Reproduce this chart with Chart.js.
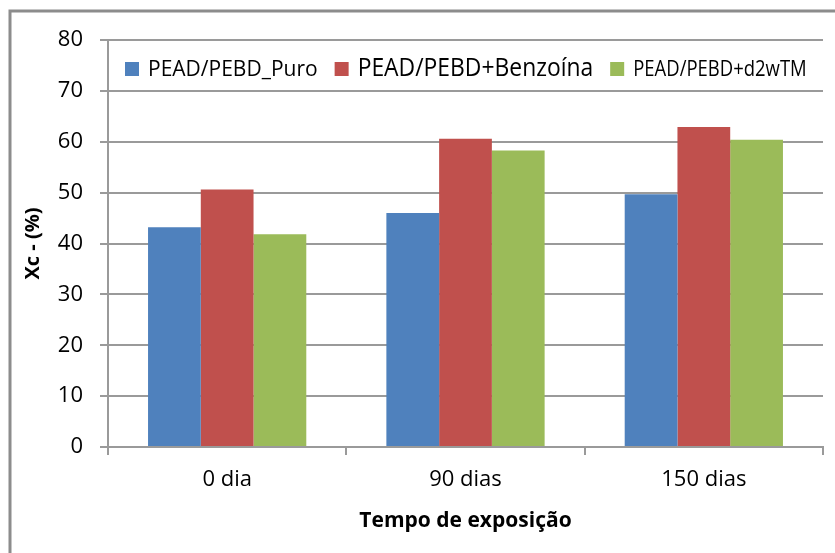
<!DOCTYPE html>
<html>
<head>
<meta charset="utf-8">
<title>Xc - (%)</title>
<script src="https://cdn.jsdelivr.net/npm/chart.js@4"></script>
<style>
  html, body { margin: 0; padding: 0; background: #fff; overflow: hidden; }
  #wrap { width: 835px; height: 553px; position: relative; }
</style>
</head>
<body>
<div id="wrap"><canvas id="xcChart" width="835" height="553"></canvas></div>
<script>
// Cristalinidade por tempo de exposição
const categories = ['0 dia', '90 dias', '150 dias'];
const seriesNames = ['PEAD/PEBD_Puro', 'PEAD/PEBD+Benzoína', 'PEAD/PEBD+d2wTM'];
const puro = [43.2, 46.0, 49.7];
const benzoina = [50.6, 60.6, 62.9];
const d2wTM = [41.8, 58.3, 60.4];
const yTicks = [0, 10, 20, 30, 40, 50, 60, 70, 80];

const colors = ['#4F81BD', '#C0504D', '#9BBB59'];
const FONT = '"Open Sans", sans-serif';

// each legend entry has its own size and horizontal squeeze
const legendFont = [22, 26, 22];
const legendSqueeze = [0.955, 0.88, 0.84];

const inlineLegend = {
    id: 'inlineLegend',
    afterDraw(chart) {
        const ctx = chart.ctx;
        const baseline = 76;
        const boxTop = 62;
        const box = 14;
        let x = 125;
        ctx.save();
        ctx.textBaseline = 'alphabetic';
        chart.data.datasets.forEach((ds, i) => {
            ctx.fillStyle = ds.backgroundColor;
            ctx.fillRect(x, boxTop, box, box);
            x += box + 9;
            ctx.font = legendFont[i] + 'px ' + FONT;
            const w = ctx.measureText(ds.label).width * legendSqueeze[i];
            ctx.save();
            ctx.translate(x, baseline);
            ctx.scale(legendSqueeze[i], 1);
            ctx.fillStyle = '#000';
            ctx.fillText(ds.label, 0, 0);
            ctx.restore();
            x += w + 17;
        });
        ctx.restore();
    }
};

// grey frame around the whole chart
const frame = {
    id: 'frame',
    beforeDraw(chart) {
        const ctx = chart.ctx;
        ctx.save();
        ctx.strokeStyle = '#8c8c8c';
        ctx.lineWidth = 3;
        ctx.strokeRect(10, 11, 900, 900);
        ctx.restore();
    }
};

const ctx = document.getElementById('xcChart').getContext('2d');
new Chart(ctx, {
    type: 'bar',
    data: {
        labels: categories,
        datasets: [
            { label: seriesNames[0], data: puro, backgroundColor: colors[0] },
            { label: seriesNames[1], data: benzoina, backgroundColor: colors[1] },
            { label: seriesNames[2], data: d2wTM, backgroundColor: colors[2] }
        ]
    },
    options: {
        responsive: false,
        animation: false,
        layout: { padding: { top: 40, right: 12, left: 0, bottom: 0 } },
        datasets: {
            bar: { categoryPercentage: 0.664, barPercentage: 1.0 }
        },
        plugins: {
            legend: { display: false },
            tooltip: { enabled: false }
        },
        scales: {
            x: {
                afterFit: (s) => { s.height = 106; },
                grid: {
                    offset: true,
                    drawOnChartArea: false,
                    tickLength: 8,
                    color: '#9a9a9a',
                    lineWidth: 2
                },
                border: { color: '#9a9a9a', width: 2 },
                ticks: {
                    color: '#000',
                    padding: 12,
                    font: { family: FONT, size: 22 }
                },
                title: {
                    display: true,
                    text: 'Tempo de exposição',
                    color: '#000',
                    font: { family: FONT, size: 21, weight: 'bold' },
                    padding: { top: 0, bottom: 19 }
                }
            },
            y: {
                min: 0,
                max: 80,
                afterFit: (s) => { s.width = 108; },
                afterBuildTicks: (s) => { s.ticks = yTicks.map(v => ({ value: v })); },
                grid: {
                    tickLength: 8,
                    color: '#9a9a9a',
                    lineWidth: 2
                },
                border: { color: '#9a9a9a', width: 2 },
                ticks: {
                    color: '#000',
                    padding: 17,
                    font: { family: FONT, size: 22 }
                },
                title: {
                    display: true,
                    text: 'Xc - (%)',
                    color: '#000',
                    font: { family: FONT, size: 20, weight: 'bold' },
                    padding: { top: 21, bottom: 0 }
                }
            }
        }
    },
    plugins: [frame, inlineLegend]
});
</script>
</body>
</html>
